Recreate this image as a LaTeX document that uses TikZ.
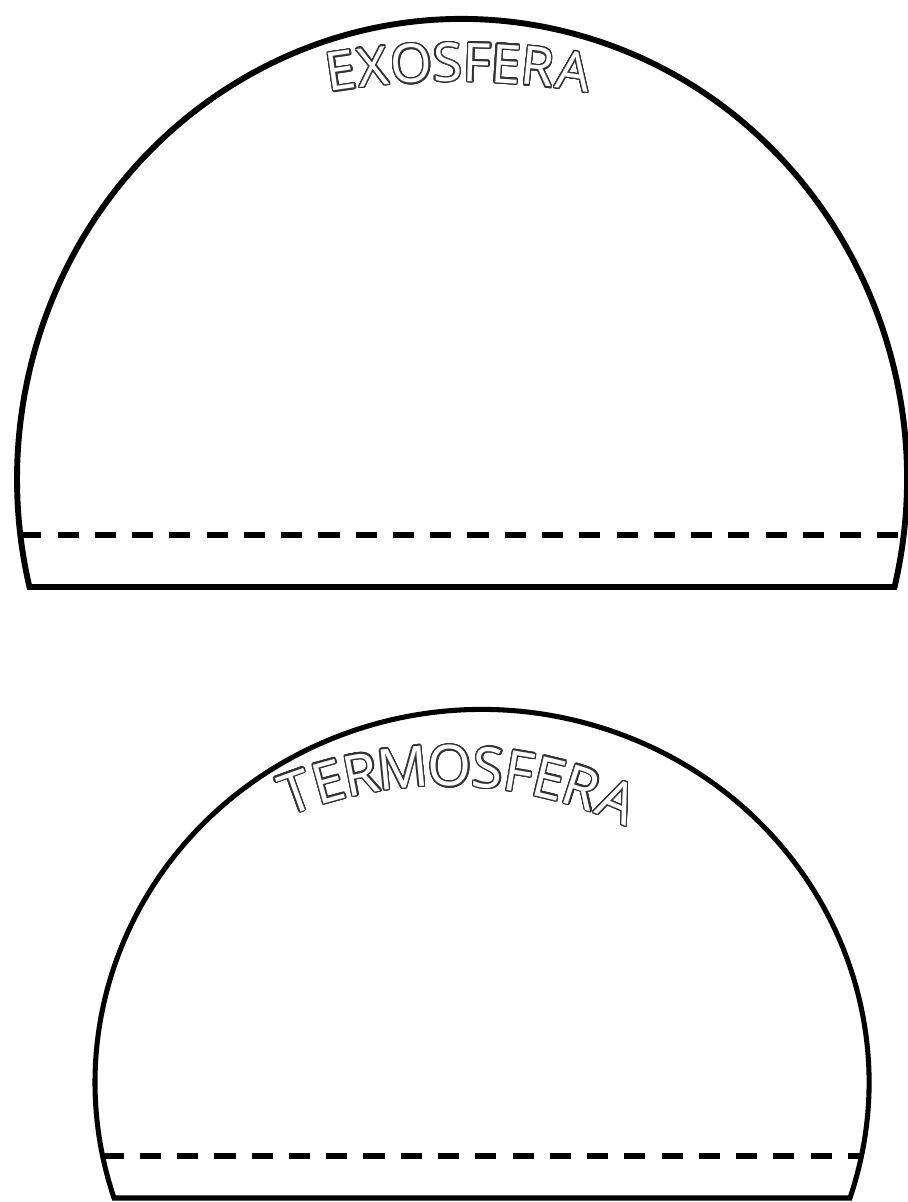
\documentclass[tikz,border=0pt]{standalone}
\usepackage{fontspec}
\usepackage[copies]{contour}
\newfontfamily\domefont{Open Sans}
\contourlength{1pt}
\contournumber{24}
\newcommand{\hollow}[1]{\textcolor{white}{\contour{black!80}{#1}}}

\begin{document}
\begin{tikzpicture}[x=0.025cm, y=0.025cm,
    dome/.style={line width=#1},
    cutline/.style={line width=#1, dash pattern=on 15pt off 11.5pt},
    letter/.style={font=\domefont\fontsize{#1}{#1}\selectfont, inner sep=0pt}]
  \useasboundingbox (0,0) rectangle (907,1202);

  % exosfera (arriba)
  \coordinate (exo) at (462,723);
  \draw[dome=4.2pt] (exo) ++(-13.58:445 and 460)
    arc[start angle=-13.58, end angle=193.58, x radius=445, y radius=460] -- cycle;
  \path (exo) ++(186.99:445 and 460) coordinate (exoL);
  \path (exo) ++(-6.99:445 and 460) coordinate (exoR);
  \draw[cutline=4pt] (exoL) -- (exoR);
  \coordinate (exotxt) at (456,339);
  \foreach \l/\a [count=\i] in {E/98.27, X/95.96, O/93.19, S/90.59, F/88.48, E/86.4, R/84.13, A/81.52}
    \path (exotxt) ++(\a:800) node[letter=38, rotate=\a-90] (exo-\i) {\hollow{\l}};

  % termosfera (abajo)
  \coordinate (ter) at (482,119.5);
  \draw[dome=3.6pt] (ter) ++(-18.04:387 and 373)
    arc[start angle=-18.04, end angle=198.04, x radius=387, y radius=373] -- cycle;
  \path (ter) ++(191.37:387 and 373) coordinate (terL);
  \path (ter) ++(-11.37:387 and 373) coordinate (terR);
  \draw[cutline=3.6pt] (terL) -- (terR);
  \coordinate (tertxt) at (445.5,-5.5);
  \foreach \l/\a [count=\i] in {T/109.8, E/105.38, R/101.04, M/95.56, O/89.45, S/84.45, F/80.4, E/76.38, R/72.04, A/67.04}
    \path (tertxt) ++(\a:441) node[letter=40, rotate=\a-90] (ter-\i) {\hollow{\l}};
\end{tikzpicture}
\end{document}
